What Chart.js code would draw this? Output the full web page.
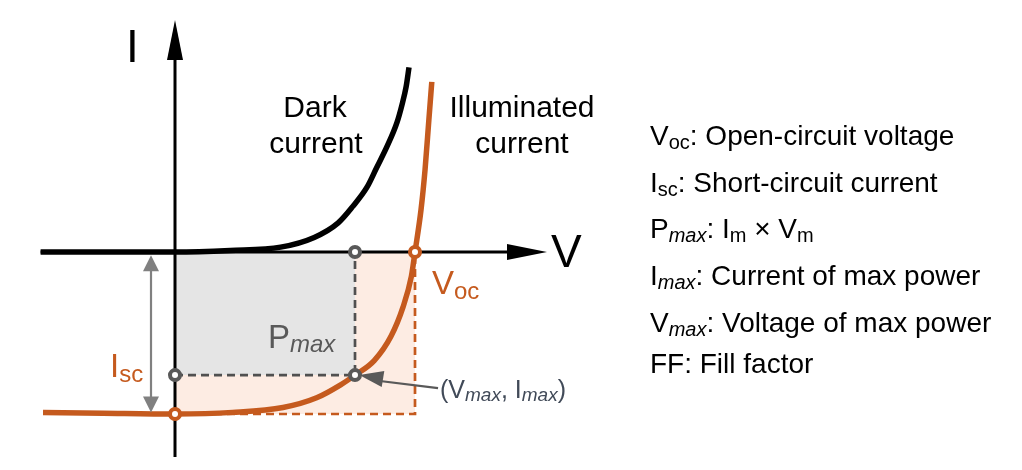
<!DOCTYPE html>
<html lang="en">
<head>
    <meta charset="UTF-8">
    <title>Solar cell I-V curve</title>
    <script src="https://cdn.jsdelivr.net/npm/chart.js"></script>
    <style>
        body { margin: 0; background: #fff; }
        canvas { display: block; }
    </style>
</head>
<body>
    <canvas id="iv-chart" width="1022" height="470"></canvas>

    <script>
        // operating points (V scaled to Voc, I scaled to Isc)
        const Voc = 1.0, Isc = -1.0, Vmax = 0.75, Imax = -0.76;

        // dark current curve
        const darkV = [-0.56, 0, 0.23, 0.44, 0.58, 0.68, 0.74, 0.8, 0.84, 0.883, 0.925, 0.946, 0.963, 0.975];
        const darkI = [0, 0, 0.01, 0.03, 0.09, 0.18, 0.28, 0.4, 0.52, 0.65, 0.8, 0.91, 1.02, 1.14];

        // illuminated current curve
        const illumV = [-0.55, -0.3, 0, 0.24, 0.45, 0.59, 0.69, 0.75, 0.83, 0.9, 0.95, 0.985, 1.0, 1.025, 1.042, 1.058, 1.07];
        const illumI = [-0.99, -0.995, -1.0, -0.99, -0.96, -0.9, -0.82, -0.76, -0.67, -0.52, -0.34, -0.15, 0, 0.26, 0.51, 0.82, 1.05];

        // axis extents
        const vAxis = [-0.56, 1.55];
        const iAxis = [-1.265, 1.432];

        const ORANGE = '#c55a1e';
        const GREY = '#595959';
        const FONT = '"Liberation Sans", Arial, sans-serif';

        const pts = (xs, ys) => xs.map((x, i) => ({ x: x, y: ys[i] }));

        function arrowHead(ctx, fx, fy, tx, ty, len, half, color) {
            const a = Math.atan2(ty - fy, tx - fx);
            ctx.save();
            ctx.translate(tx, ty);
            ctx.rotate(a);
            ctx.fillStyle = color;
            ctx.beginPath();
            ctx.moveTo(0, 0);
            ctx.lineTo(-len, -half);
            ctx.lineTo(-len, half);
            ctx.closePath();
            ctx.fill();
            ctx.restore();
        }

        function runs(ctx, x, y, parts, color, align) {
            ctx.fillStyle = color;
            ctx.textBaseline = 'alphabetic';
            ctx.textAlign = 'left';
            let w = 0;
            parts.forEach(p => {
                ctx.font = (p.it ? 'italic ' : '') + p.s + 'px ' + FONT;
                w += ctx.measureText(p.t).width;
            });
            if (align === 'center') x -= w / 2;
            parts.forEach(p => {
                ctx.font = (p.it ? 'italic ' : '') + p.s + 'px ' + FONT;
                ctx.fillText(p.t, x, y + (p.dy || 0));
                x += ctx.measureText(p.t).width;
            });
        }

        const sketch = {
            id: 'sketch',
            afterDatasetsDraw(chart) {
                const ctx = chart.ctx;
                const X = v => chart.scales.x.getPixelForValue(v);
                const Y = v => chart.scales.y.getPixelForValue(v);

                // axis arrows
                arrowHead(ctx, X(0), Y(0), X(vAxis[1]), Y(0), 40, 8, '#000');
                arrowHead(ctx, X(0), Y(0), X(0), Y(iAxis[1]), 40, 8, '#000');

                // Isc double arrow
                arrowHead(ctx, X(-0.1), Y(-0.5), X(-0.1), Y(-0.02), 16, 8, '#808080');
                arrowHead(ctx, X(-0.1), Y(-0.5), X(-0.1), Y(-0.99), 16, 8, '#808080');

                // pointer to (Vmax, Imax)
                arrowHead(ctx, X(1.096), Y(-0.84), X(Vmax + 0.018), Y(Imax), 24, 8, GREY);

                // axis labels
                runs(ctx, 126, 62, [{ t: 'I', s: 46 }], '#000');
                runs(ctx, 551, 267, [{ t: 'V', s: 46 }], '#000');

                // curve labels
                runs(ctx, 315, 117, [{ t: 'Dark', s: 30 }], '#000', 'center');
                runs(ctx, 316, 153, [{ t: 'current', s: 30 }], '#000', 'center');
                runs(ctx, 522, 117, [{ t: 'Illuminated', s: 30 }], '#000', 'center');
                runs(ctx, 522, 153, [{ t: 'current', s: 30 }], '#000', 'center');

                // point labels
                runs(ctx, X(Voc) + 17, Y(0) + 42, [{ t: 'V', s: 33 }, { t: 'oc', s: 24, dy: 5 }], ORANGE);
                runs(ctx, 110, 377, [{ t: 'I', s: 33 }, { t: 'sc', s: 24, dy: 5 }], ORANGE);
                runs(ctx, 268, 348, [{ t: 'P', s: 33 }, { t: 'max', s: 24, dy: 4, it: true }], GREY);
                runs(ctx, 440, 398, [{ t: '(V', s: 25 }, { t: 'max', s: 19, dy: 3, it: true },
                    { t: ', I', s: 25 }, { t: 'max', s: 19, dy: 3, it: true }, { t: ')', s: 25 }], '#414a58');

                // definitions
                const L = 28, S = 20, D = 4;
                const lines = [
                    [{ t: 'V', s: L }, { t: 'oc', s: S, dy: D }, { t: ': Open-circuit voltage', s: L }],
                    [{ t: 'I', s: L }, { t: 'sc', s: S, dy: D }, { t: ': Short-circuit current', s: L }],
                    [{ t: 'P', s: L }, { t: 'max', s: S, dy: D, it: true }, { t: ': I', s: L }, { t: 'm', s: S, dy: D },
                        { t: ' \u00d7 V', s: L }, { t: 'm', s: S, dy: D }],
                    [{ t: 'I', s: L }, { t: 'max', s: S, dy: D, it: true }, { t: ': Current of max power', s: L }],
                    [{ t: 'V', s: L }, { t: 'max', s: S, dy: D, it: true }, { t: ': Voltage of max power', s: L }],
                    [{ t: 'FF: Fill factor', s: L }]
                ];
                const base = [145, 192, 238, 285, 332, 373];
                lines.forEach((ln, i) => runs(ctx, 650, base[i], ln, '#000'));
            }
        };

        const marker = (data, color) => ({
            data: data, showLine: false, order: 1,
            pointRadius: 5, pointBorderWidth: 4,
            pointBackgroundColor: '#fff', pointBorderColor: color
        });

        new Chart(document.getElementById('iv-chart'), {
            type: 'scatter',
            data: {
                datasets: [
                    // power rectangles
                    { data: [{ x: 0, y: Isc }, { x: Voc, y: Isc }], showLine: true, fill: 'origin',
                      backgroundColor: '#fdece3', borderWidth: 0, pointRadius: 0, order: 20 },
                    { data: [{ x: 0, y: Imax }, { x: Vmax, y: Imax }], showLine: true, fill: 'origin',
                      backgroundColor: '#e5e5e5', borderWidth: 0, pointRadius: 0, order: 19 },
                    // dashed guides
                    { data: [{ x: 0, y: Isc }, { x: Voc, y: Isc }, { x: Voc, y: 0 }], showLine: true,
                      borderColor: ORANGE, borderWidth: 2.7, borderDash: [8, 5], pointRadius: 0, order: 18 },
                    { data: [{ x: 0, y: Imax }, { x: Vmax, y: Imax }, { x: Vmax, y: 0 }], showLine: true,
                      borderColor: '#505050', borderWidth: 2.7, borderDash: [8, 5], pointRadius: 0, order: 17 },
                    // axes
                    { data: [{ x: vAxis[0], y: 0 }, { x: vAxis[1] - 0.12, y: 0 }], showLine: true,
                      borderColor: '#000', borderWidth: 3, pointRadius: 0, order: 16 },
                    { data: [{ x: 0, y: iAxis[0] }, { x: 0, y: iAxis[1] - 0.2 }], showLine: true,
                      borderColor: '#000', borderWidth: 3, pointRadius: 0, order: 15 },
                    // Isc arrow shaft
                    { data: [{ x: -0.1, y: -0.08 }, { x: -0.1, y: -0.93 }], showLine: true,
                      borderColor: '#808080', borderWidth: 2.2, pointRadius: 0, order: 14 },
                    // pointer shaft
                    { data: [{ x: 1.096, y: -0.84 }, { x: Vmax + 0.07, y: Imax - 0.03 }], showLine: true,
                      borderColor: GREY, borderWidth: 2.2, pointRadius: 0, order: 13 },
                    // curves
                    { label: 'Dark current', data: pts(darkV, darkI), showLine: true,
                      borderColor: '#000', borderWidth: 5.5, pointRadius: 0, cubicInterpolationMode: 'monotone', order: 5 },
                    { label: 'Illuminated current', data: pts(illumV, illumI), showLine: true,
                      borderColor: ORANGE, borderWidth: 5.5, pointRadius: 0, cubicInterpolationMode: 'monotone', order: 4 },
                    // markers
                    marker([{ x: Vmax, y: 0 }, { x: 0, y: Imax }, { x: Vmax, y: Imax }], GREY),
                    marker([{ x: Voc, y: 0 }, { x: 0, y: Isc }], ORANGE)
                ]
            },
            options: {
                responsive: false,
                animation: false,
                layout: { padding: 0, autoPadding: false },
                plugins: { legend: { display: false }, tooltip: { enabled: false } },
                scales: {
                    x: { type: 'linear', display: false, min: -0.7292, max: 3.5292 },
                    y: { type: 'linear', display: false, min: -1.3457, max: 1.5556 }
                }
            },
            plugins: [sketch]
        });
    </script>
</body>
</html>
